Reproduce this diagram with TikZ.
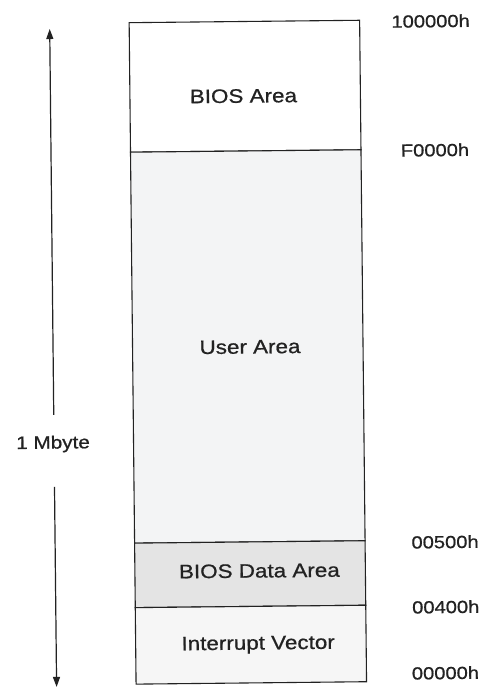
\documentclass[tikz,border=0pt]{standalone}
\usepackage{fontspec}
\setmainfont{Liberation Sans}
\newfontfamily\labfont[FakeStretch=1.15,FakeBold=0.8]{Liberation Sans}
\usetikzlibrary{arrows.meta}
\definecolor{ink}{HTML}{222222}
\definecolor{userfill}{HTML}{F3F4F5}
\definecolor{datafill}{HTML}{E4E4E4}
\definecolor{ivfill}{HTML}{F6F6F6}
\tikzset{
  region/.style={draw=ink, line width=1.1pt, minimum width=230.5pt, inner sep=0pt, outer sep=0pt},
  areatxt/.style={text=ink, font=\labfont\fontsize{19.5}{22}\selectfont, inner sep=0pt},
  addr/.style={text=ink, font=\labfont\fontsize{17.5}{20}\selectfont, inner sep=0pt},
  sizearrow/.style={draw=ink, line width=1.2pt, -{Triangle[length=10pt,width=7pt]}}
}
\begin{document}
\begin{tikzpicture}[x=1pt,y=1pt]
\useasboundingbox (0,0) rectangle (483,-687);
\fill[white] (0,0) rectangle (483,-687);
\begin{scope}[rotate around={0.6:(243,-343)}, transform shape]
  % memory regions
  \node[region, fill=white, minimum height=129.5pt] (bios) at (247.75,-86.25) {};
  \node[region, fill=userfill, minimum height=391pt] (user) at (247.75,-346.5) {};
  \node[region, fill=datafill, minimum height=64.5pt] (data) at (247.75,-574.25) {};
  \node[region, fill=ivfill, minimum height=76.5pt] (ivec) at (247.75,-644.75) {};
  % texts
  \node[areatxt] (biost) at (246,-96) {BIOS Area};
  \node[areatxt] (usert) at (250,-347) {User Area};
  \node[areatxt] (datat) at (257,-571) {BIOS Data Area};
  \node[areatxt] (ivect) at (255,-645) {Interrupt Vector};
  % addresses
  \node[addr] (a1) at (434,-23) {100000h};
  \node[addr] (a2) at (437,-152) {F0000h};
  \node[addr] (a3) at (443,-544) {00500h};
  \node[addr] (a4) at (443,-609) {00400h};
  \node[addr] (a5) at (442,-675) {00000h};
  % size arrow
  \node[addr, font=\labfont\fontsize{18}{20}\selectfont] (mb) at (52,-442) {1 Mbyte};
  \coordinate (g1) at (53,-413);
  \coordinate (g2) at (53,-485);
  \coordinate (atop) at (53,-27);
  \coordinate (abot) at (53,-685);
  \draw[sizearrow] (g1) -- (atop);
  \draw[sizearrow] (g2) -- (abot);
\end{scope}
\end{tikzpicture}
\end{document}
